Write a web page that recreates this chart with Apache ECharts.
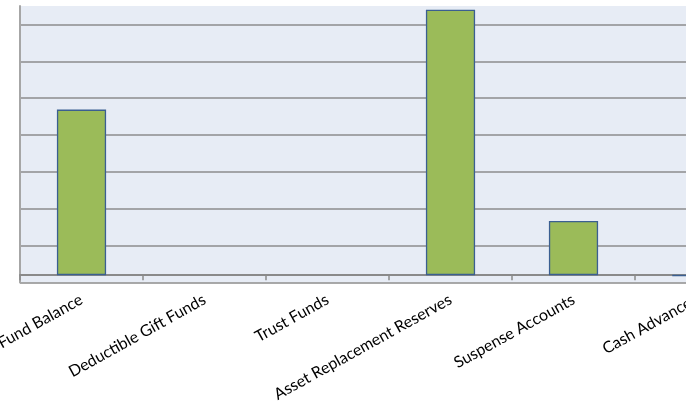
<!DOCTYPE html>
<html>
<head>
<meta charset="utf-8">
<script src="https://cdn.jsdelivr.net/npm/echarts@6/dist/echarts.min.js"></script>
<style>
  html, body { margin: 0; padding: 0; background: #ffffff; }
  #chart { width: 686px; height: 407px; }
</style>
</head>
<body>
<div id="chart"></div>
<script>
var categories = ['General Fund Balance', 'Deductible Gift Funds', 'Trust Funds', 'Asset Replacement Reserves', 'Suspense Accounts', 'Cash Advances'];
var values = [449, null, null, 720, 147, -2];
var axisMin = -20;
var axisMax = 730;
var axisInterval = 100;

var chart = echarts.init(document.getElementById('chart'), null, { renderer: 'canvas' });
chart.setOption({
  animation: false,
  backgroundColor: '#ffffff',
  grid: {
    left: 20, top: 6, width: 738, height: 276.5,
    show: true, backgroundColor: '#E7ECF5', borderWidth: 0,
    containLabel: false,
    outerBoundsMode: 'none'
  },
  xAxis: {
    type: 'category',
    data: categories,
    axisLine: { show: true, onZero: true, lineStyle: { color: '#8a8a8a', width: 2 } },
    axisTick: { show: true, alignWithLabel: false, length: 5, lineStyle: { color: '#8a8a8a', width: 1.5 } },
    axisLabel: {
      rotate: 29, margin: 16, interval: 0, hideOverlap: false,
      fontFamily: 'Lato', fontSize: 16, color: '#000000'
    },
    splitLine: { show: false }
  },
  yAxis: {
    type: 'value',
    min: axisMin, max: axisMax, interval: axisInterval,
    axisLine: { show: true, lineStyle: { color: '#a6a6a6', width: 2 } },
    axisTick: { show: false },
    axisLabel: { show: false },
    splitLine: { show: true, showMaxLine: false, lineStyle: { color: '#8c8c8c', width: 1.5 } }
  },
  series: [{
    type: 'bar',
    data: values,
    barWidth: '40%',
    itemStyle: { color: '#9BBB59', borderColor: '#3B5F91', borderWidth: 1.3 }
  }]
});
</script>
</body>
</html>
